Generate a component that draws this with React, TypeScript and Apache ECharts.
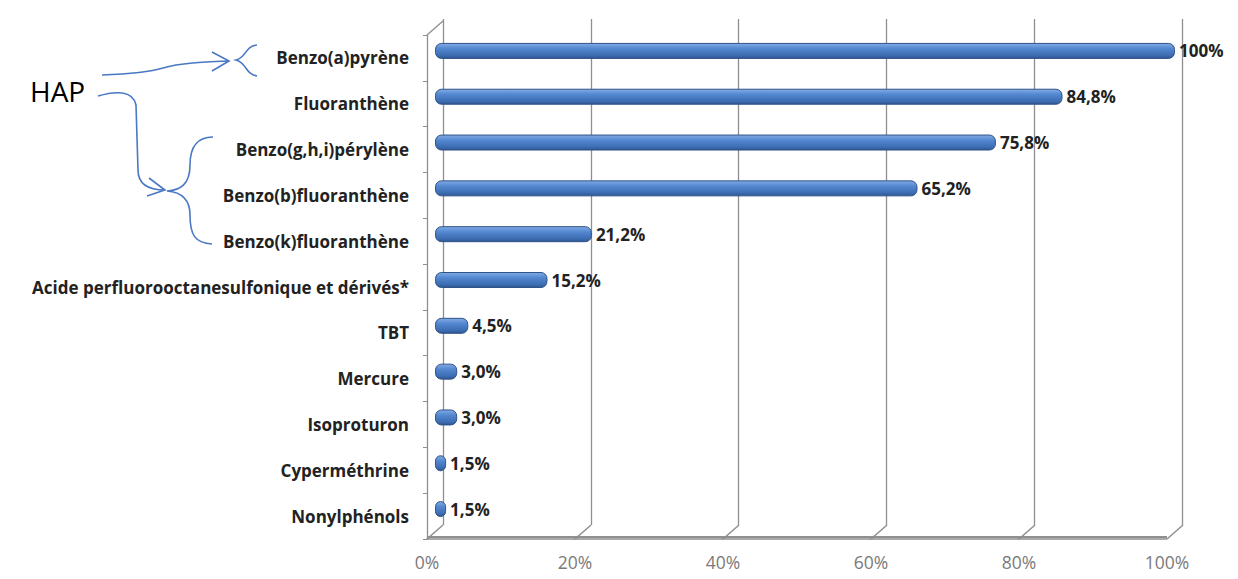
import React, { useEffect, useRef } from "react";
import * as echarts from "echarts";

const categories = [
  "Benzo(a)pyrène",
  "Fluoranthène",
  "Benzo(g,h,i)pérylène",
  "Benzo(b)fluoranthène",
  "Benzo(k)fluoranthène",
  "Acide perfluorooctanesulfonique et dérivés*",
  "TBT",
  "Mercure",
  "Isoproturon",
  "Cyperméthrine",
  "Nonylphénols",
];
const values = [100, 84.8, 75.8, 65.2, 21.2, 15.2, 4.5, 3.0, 3.0, 1.5, 1.5];
const gridTicks = [0, 20, 40, 60, 80, 100];
const floorEnds = [0, 100];
const annotationLabel = "HAP";

const annotationPath =
  "M102,75 C130,74 150,72 163,68 C180,63 205,62 228,61 M212,52 L229,61 L212,71 " +
  "M257,45 C245,46 247,57 236,60 C247,63 245,74 257,76 " +
  "M98,96 C115,91 133,90 136,105 L138,170 C138,185 150,190 165,190 M149,178 L165,190 L147,196 " +
  "M213,137 C195,137 190,150 190,165 C190,185 180,190 167,191 C180,192 190,198 190,215 C190,235 195,243 212,244";

let registered = false;

export default function App() {
  const ref = useRef<HTMLDivElement>(null);
  useEffect(() => {
    if (!ref.current) return;
    if (!registered) {
      echarts.graphic.registerShape("hapBraces", echarts.graphic.extendPath(annotationPath, {}) as any);
      registered = true;
    }
    const chart = echarts.init(ref.current, undefined, { renderer: "svg" });
    const gridColor = "#8f8f8f";
    const fmt = (v: number) => (v === 100 ? "100%" : v.toFixed(1).replace(".", ",") + "%");
    const option: any = {
      animation: false,
      backgroundColor: "#ffffff",
      grid: [
        { left: 435, right: 63, top: 28, bottom: 47 },
        { left: 427, right: 71, top: 35, bottom: 40 },
        { left: 443, right: 56, top: 19, bottom: 54 },
        { left: 427, right: 71, top: 35, bottom: 40 },
      ],
      xAxis: [
        { type: "value", gridIndex: 0, min: 0, max: 100, show: false },
        {
          type: "value",
          gridIndex: 1,
          min: 0,
          max: 100,
          interval: 20,
          axisLine: { show: false },
          axisTick: { show: false },
          splitLine: { show: false },
          axisLabel: {
            formatter: (v: number) => v + "%",
            color: "#7a7a7a",
            fontSize: 17.5,
            fontFamily: "Open Sans",
            margin: 14,
          },
        },
        {
          type: "value",
          gridIndex: 2,
          min: 0,
          max: 100,
          interval: 20,
          axisLine: { show: false },
          axisTick: { show: false },
          axisLabel: { show: false },
          splitLine: { show: true, lineStyle: { color: gridColor, width: 1.3 } },
        },
        { type: "value", gridIndex: 3, min: 0, max: 100, show: false },
      ],
      yAxis: [
        { type: "category", gridIndex: 0, data: categories, inverse: true, show: false },
        {
          type: "category",
          gridIndex: 1,
          data: categories,
          inverse: true,
          axisLine: { show: true, lineStyle: { color: gridColor, width: 1.3 } },
          axisTick: { show: true, length: 4, lineStyle: { color: gridColor } },
          axisLabel: {
            color: "#222",
            fontWeight: "bold",
            fontSize: 17,
            fontFamily: "Open Sans",
            margin: 18,
          },
        },
        { type: "value", gridIndex: 2, min: 0, max: 1, show: false },
        { type: "value", gridIndex: 3, min: 0, max: 1, show: false },
      ],
      series: [
        {
          type: "bar",
          xAxisIndex: 0,
          yAxisIndex: 0,
          data: values,
          barWidth: 16,
          itemStyle: {
            color: new echarts.graphic.LinearGradient(0, 0, 0, 1, [
              { offset: 0, color: "#82abe6" },
              { offset: 0.35, color: "#5387cf" },
              { offset: 0.8, color: "#3d6db2" },
              { offset: 1, color: "#2f5590" },
            ]),
            borderColor: "#2f5488",
            borderWidth: 1,
            borderRadius: 6,
          },
          label: {
            show: true,
            position: "right",
            distance: 4,
            formatter: (p: any) => fmt(p.value),
            color: "#222",
            fontWeight: "bold",
            fontSize: 17,
            fontFamily: "Open Sans",
          },
        },
        {
          type: "line",
          xAxisIndex: 3,
          yAxisIndex: 3,
          data: floorEnds.map((t) => [t, 0.004]),
          symbol: "none",
          silent: true,
          clip: false,
          z: 11,
          lineStyle: { color: gridColor, width: 2 },
        },
        {
          type: "custom",
          xAxisIndex: 3,
          yAxisIndex: 3,
          data: gridTicks.map((t) => [t, 0]),
          silent: true,
          clip: false,
          z: 10,
          renderItem: (params: any, api: any) => {
            const v = api.value(0);
            const f = api.coord([v, 0]);
            const pts: number[][] = [[f[0] + 16, f[1] - 14], f];
            if (v < 100) {
              const n = api.coord([v + 20, 0]);
              pts.push(n);
            }
            const children: any[] = [
              {
                type: "polyline",
                shape: { points: pts },
                style: { stroke: gridColor, lineWidth: 1.5, fill: null },
              },
            ];
            if (v === 0) {
              const t = api.coord([0, 1]);
              children.push({
                type: "line",
                shape: { x1: t[0], y1: t[1], x2: t[0] + 16, y2: t[1] - 14 },
                style: { stroke: gridColor, lineWidth: 1.3 },
              });
            }
            return { type: "group", children };
          },
        },
      ],
      graphic: [
        {
          type: "text",
          left: 30,
          top: 77,
          style: { text: annotationLabel, fontSize: 28, fontFamily: "Open Sans", fill: "#000" },
        },
        {
          type: "hapBraces",
          x: 0,
          y: 0,
          style: { stroke: "#4a78c2", fill: "none", lineWidth: 1.6 },
        },
      ],
    };
    chart.setOption(option);
    return () => chart.dispose();
  }, []);
  return (
    <div
      ref={ref}
      style={{ position: "fixed", left: 0, top: 0, width: 1238, height: 579 }}
    />
  );
}
